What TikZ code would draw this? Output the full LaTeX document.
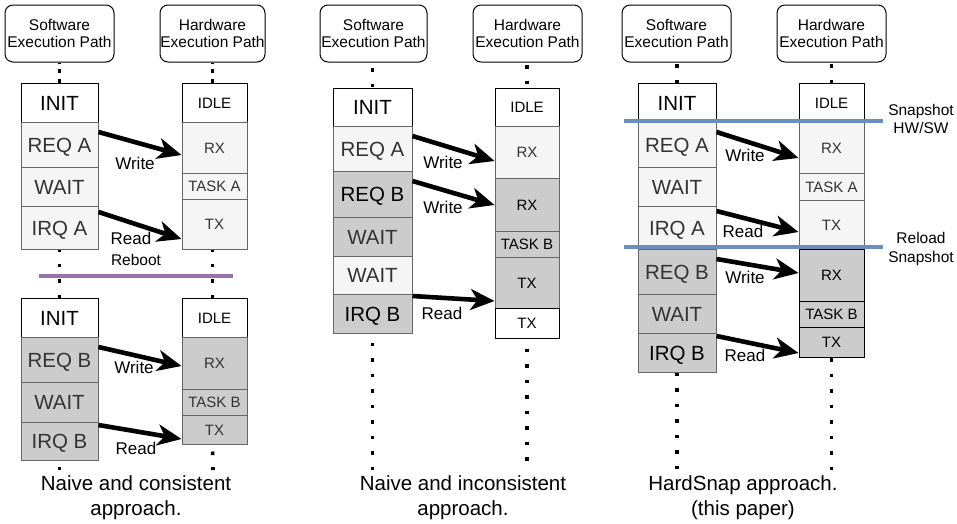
\documentclass[tikz,border=0pt]{standalone}
\usepackage{fontspec}
\setmainfont{Liberation Sans}
\usetikzlibrary{arrows.meta}
\definecolor{lightfill}{HTML}{F5F5F5}
\definecolor{grayfill}{HTML}{CCCCCC}
\definecolor{cellborder}{HTML}{666666}
\definecolor{celltext}{HTML}{333333}
\definecolor{snapblue}{HTML}{6C8EBF}
\definecolor{rebootpurple}{HTML}{9673A6}
\begin{document}
\begin{tikzpicture}[x=1pt,y=-1pt,
 hdr/.style={draw=black, line width=1pt, rounded corners=8pt, minimum height=57pt, inner sep=0pt, align=center, font=\fontsize{15.5}{17}\selectfont},
 cellbase/.style={anchor=north, inner sep=0pt, line width=1pt, text depth=0pt},
 swcell/.style={cellbase, text height=14.6pt, minimum width=#1, font=\fontsize{20.5}{24}\selectfont},
 hwcell/.style={cellbase, text height=10.7pt, minimum width=#1, font=\fontsize{15}{18}\selectfont},
 wht/.style={draw=black, fill=white, text=black},
 lgt/.style={draw=cellborder, fill=lightfill, text=celltext},
 gry/.style={draw=cellborder, fill=grayfill, text=celltext},
 gryk/.style={draw=cellborder, fill=grayfill, text=black},
 gryb/.style={draw=black, fill=grayfill, text=black},
 dotline/.style={line width=3.6pt, dash pattern=on 3.6pt off 11.9pt, dash phase=#1},
 dottop/.style={line width=3.6pt, dash pattern=on 3.6pt off 6.4pt, dash phase=3.5pt},
 flow/.style={line width=4.6pt, -{Stealth[length=24pt,width=21pt,inset=7pt]}},
 lbl/.style={font=\fontsize{17}{20}\selectfont, text height=12.2pt, text depth=0pt, inner sep=0pt},
 sidelbl/.style={font=\fontsize{15.5}{18}\selectfont, text height=11pt, text depth=0pt, inner sep=0pt},
 caption/.style={font=\fontsize{20.5}{25}\selectfont, anchor=base, inner sep=0pt},
 snapline/.style={draw=snapblue, line width=3.5pt},
 rebootline/.style={draw=rebootpurple, line width=4pt}
]
\useasboundingbox (0,0) rectangle (957,523);

% ================= Panel 1 =================
\node[hdr, minimum width=109pt] (a-swh) at (59.5,33.5) {Software\\Execution Path};
\node[hdr, minimum width=105pt] (a-hwh) at (212.5,33.5) {Hardware\\Execution Path};

\node[swcell=77pt, wht, minimum height=39pt] (a-init) at (59.5,83) {INIT};
\node[swcell=77pt, lgt, minimum height=45pt] (a-reqa) at (59.5,122) {REQ A};
\node[swcell=77pt, lgt, minimum height=39pt] (a-wait) at (59.5,167) {WAIT};
\node[swcell=77pt, lgt, minimum height=43pt] (a-irqa) at (59.5,206) {IRQ A};

\node[hwcell=65pt, wht, minimum height=39pt] (a-idle) at (214.5,83) {IDLE};
\node[hwcell=65pt, lgt, minimum height=51pt] (a-rx) at (214.5,122) {RX};
\node[hwcell=65pt, lgt, minimum height=26pt] (a-task) at (214.5,173) {TASK A};
\node[hwcell=65pt, lgt, minimum height=50pt] (a-tx) at (214.5,199) {TX};

\node[swcell=77pt, wht, minimum height=39pt] (b-init) at (59.5,298) {INIT};
\node[swcell=77pt, gry, minimum height=45pt] (b-reqb) at (59.5,337) {REQ B};
\node[swcell=77pt, gry, minimum height=40pt] (b-wait) at (59.5,382) {WAIT};
\node[swcell=77pt, gry, minimum height=38pt] (b-irqb) at (59.5,422) {IRQ B};

\node[hwcell=65pt, wht, minimum height=39pt] (b-idle) at (214.5,298) {IDLE};
\node[hwcell=65pt, gry, minimum height=52pt] (b-rx) at (214.5,337) {RX};
\node[hwcell=65pt, gry, minimum height=26pt] (b-task) at (214.5,389) {TASK B};
\node[hwcell=65pt, gry, minimum height=29pt] (b-tx) at (214.5,415) {TX};

\coordinate (a-swend) at (59.5,470);
\coordinate (a-hwend) at (213,470);
\draw[dottop] (a-swh.south) -- (a-swh.south |- a-init.north);
\draw[dottop] (a-hwh.south) -- (a-hwh.south |- a-idle.north);
\draw[dotline=2pt] (a-irqa.south) -- (b-init.north);
\draw[dotline=2pt] (a-hwh.south |- a-tx.south) -- (a-hwh.south |- b-idle.north);
\draw[dotline=9.5pt] (b-irqb.south) -- (a-swend);
\draw[dotline=9pt] (a-hwh.south |- b-tx.south) -- (a-hwend);

\coordinate (a-rbl) at (39,276);
\coordinate (a-rbr) at (233,276);
\draw[rebootline] (a-rbl) -- (a-rbr);
\node[sidelbl] (a-reboot) at (136,260) {Reboot};

\node[lbl] (a-w1) at (135,163) {Write};
\node[lbl] (a-r1) at (131,238) {Read};
\node[lbl] (b-w1) at (134,367) {Write};
\node[lbl] (b-r1) at (136,448) {Read};
\draw[flow] ([yshift=-10pt]a-reqa.north east) -- ([yshift=-33pt]a-rx.north west);
\draw[flow] ([yshift=-6pt]a-irqa.north east) -- ([yshift=-40pt]a-tx.north west);
\draw[flow] ([yshift=-10pt]b-reqb.north east) -- ([yshift=-29pt]b-rx.north west);
\draw[flow] ([yshift=-3pt]b-irqb.north east) -- ([yshift=-24pt]b-tx.north west);

\node[caption] (a-cap1) at (136,490) {Naive and consistent};
\node[caption] (a-cap2) at (136,515) {approach.};

% ================= Panel 2 =================
\node[hdr, minimum width=107pt] (c-swh) at (373.5,33.5) {Software\\Execution Path};
\node[hdr, minimum width=109pt] (c-hwh) at (527.5,33.5) {Hardware\\Execution Path};

\node[swcell=79pt, wht, minimum height=38pt] (c-init) at (372.5,88) {INIT};
\node[swcell=79pt, lgt, minimum height=45pt] (c-reqa) at (372.5,126) {REQ A};
\node[swcell=79pt, gryk, minimum height=46pt] (c-reqb) at (372.5,171) {REQ B};
\node[swcell=79pt, gry, minimum height=39pt] (c-wait1) at (372.5,217) {WAIT};
\node[swcell=79pt, lgt, minimum height=38pt] (c-wait2) at (372.5,256) {WAIT};
\node[swcell=79pt, gryk, minimum height=39pt] (c-irqb) at (372.5,294) {IRQ B};

\node[hwcell=64pt, wht, minimum height=38pt] (c-idle) at (527,88) {IDLE};
\node[hwcell=64pt, lgt, minimum height=52pt] (c-rxa) at (527,126) {RX};
\node[hwcell=64pt, gryk, minimum height=53pt] (c-rxb) at (527,178) {RX};
\node[hwcell=64pt, gryk, minimum height=26pt] (c-task) at (527,231) {TASK B};
\node[hwcell=64pt, gryk, minimum height=51pt] (c-txb) at (527,257) {TX};
\node[hwcell=64pt, wht, minimum height=30pt] (c-txw) at (527,308) {TX};

\coordinate (c-swend) at (372.5,470);
\coordinate (c-hwend) at (527,461);
\draw[dotline=10pt] (c-init.north |- c-swh.south) -- (c-init.north);
\draw[dotline=13pt] (c-idle.north |- c-hwh.south) -- (c-idle.north);
\draw[dotline=7pt] (c-irqb.south) -- (c-swend);
\draw[dotline=6pt] (c-txw.south) -- (c-hwend);

\node[lbl] (c-w1) at (443,162) {Write};
\node[lbl] (c-w2) at (443,207) {Write};
\node[lbl] (c-r1) at (442,313) {Read};
\draw[flow] ([yshift=-10pt]c-reqa.north east) -- ([yshift=-35pt]c-rxa.north west);
\draw[flow] ([yshift=-10pt]c-reqb.north east) -- ([yshift=-27pt]c-rxb.north west);
\draw[flow] ([yshift=-2pt]c-irqb.north east) -- ([yshift=-44pt]c-txb.north west);

\node[caption] (c-cap1) at (463,490) {Naive and inconsistent};
\node[caption] (c-cap2) at (463,515) {approach.};

% ================= Panel 3 =================
\node[hdr, minimum width=109pt] (d-swh) at (676.5,33.5) {Software\\Execution Path};
\node[hdr, minimum width=109pt] (d-hwh) at (831.5,33.5) {Hardware\\Execution Path};

\node[swcell=78pt, wht, minimum height=39pt] (d-init) at (677,83) {INIT};
\node[swcell=78pt, lgt, minimum height=45pt] (d-reqa) at (677,122) {REQ A};
\node[swcell=78pt, lgt, minimum height=39pt] (d-wait) at (677,167) {WAIT};
\node[swcell=78pt, lgt, minimum height=43pt] (d-irqa) at (677,206) {IRQ A};
\node[swcell=78pt, gry, minimum height=45pt] (d-reqb) at (677,249) {REQ B};
\node[swcell=78pt, gry, minimum height=39pt] (d-wait2) at (677,294) {WAIT};
\node[swcell=78pt, gryk, minimum height=39pt] (d-irqb) at (677,333) {IRQ B};

\node[hwcell=65pt, wht, minimum height=39pt] (d-idle) at (831.5,83) {IDLE};
\node[hwcell=65pt, lgt, minimum height=51pt] (d-rxa) at (831.5,122) {RX};
\node[hwcell=65pt, lgt, minimum height=27pt] (d-taska) at (831.5,173) {TASK A};
\node[hwcell=65pt, lgt, minimum height=49pt] (d-txa) at (831.5,200) {TX};
\node[hwcell=65pt, gryb, minimum height=52pt] (d-rxb) at (831.5,249) {RX};
\node[hwcell=65pt, gryb, minimum height=26pt] (d-taskb) at (831.5,301) {TASK B};
\node[hwcell=65pt, gryb, minimum height=30pt] (d-txb) at (831.5,327) {TX};

\coordinate (d-swend) at (677,470);
\coordinate (d-hwend) at (831.5,470);
\draw[dotline=14pt] (d-init.north |- d-swh.south) -- (d-init.north);
\draw[dotline=14pt] (d-idle.north |- d-hwh.south) -- (d-idle.north);
\draw[dotline=0.5pt] (d-irqb.south) -- (d-swend);
\draw[dotline=0pt] (d-txb.south) -- (d-hwend);

\node[lbl] (d-w1) at (745,155) {Write};
\node[lbl] (d-r1) at (743,231) {Read};
\node[lbl] (d-w2) at (745,277) {Write};
\node[lbl] (d-r2) at (745,355) {Read};
\draw[flow] ([yshift=-10pt]d-reqa.north east) -- ([yshift=-36pt]d-rxa.north west);
\draw[flow] ([yshift=-5pt]d-irqa.north east) -- ([yshift=-32pt]d-txa.north west);
\draw[flow] ([yshift=-10pt]d-reqb.north east) -- ([yshift=-24pt]d-rxb.north west);
\draw[flow] ([yshift=-3pt]d-irqb.north east) -- ([yshift=-26pt]d-txb.north west);

\coordinate (d-snl) at (624,121);
\coordinate (d-snr) at (883,121);
\coordinate (d-rll) at (624,247);
\coordinate (d-rlr) at (883,247);
\draw[snapline] (d-snl) -- (d-snr);
\draw[snapline] (d-rll) -- (d-rlr);

\node[sidelbl] (d-s1) at (921,109.5) {Snapshot};
\node[sidelbl] (d-s2) at (921,128) {HW/SW};
\node[sidelbl] (d-l1) at (921,238) {Reload};
\node[sidelbl] (d-l2) at (921,257) {Snapshot};

\node[caption] (d-cap1) at (743,490) {HardSnap approach.};
\node[caption] (d-cap2) at (743,515) {(this paper)};
\end{tikzpicture}
\end{document}
